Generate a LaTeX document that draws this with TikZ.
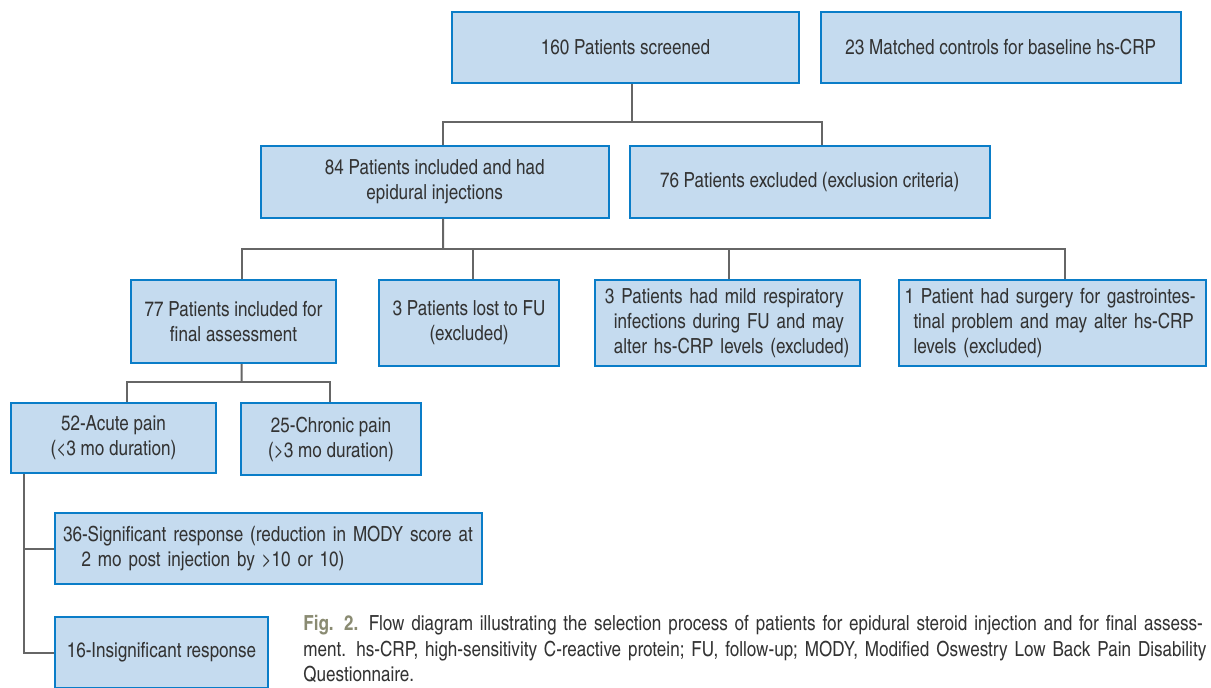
\documentclass[tikz,border=0pt]{standalone}
\usepackage{fontspec}
\setmainfont{texgyreheroscn}[Extension=.otf,UprightFont=*-regular,BoldFont=*-bold,ItalicFont=*-italic,BoldItalicFont=*-bolditalic]
\definecolor{boxline}{HTML}{0A7DC8}
\definecolor{boxfill}{HTML}{C5DBEF}
\definecolor{linkgray}{HTML}{666666}
\definecolor{txtgray}{HTML}{333333}
\definecolor{figolive}{HTML}{8A8B72}

\begin{document}
\begin{tikzpicture}[x=0.5pt,y=-0.5pt,
	box/.style={draw=boxline,fill=boxfill,line width=1pt,align=center,inner sep=2pt,text=txtgray,font=\fontsize{10.4}{12.5}\selectfont},
	link/.style={draw=linkgray,line width=1pt}]
	\useasboundingbox (0,0) rectangle (1211,687);
	% top row
	\node[box,minimum width=173.5pt,minimum height=35.5pt] (scr) at (625.5,47.5) {160 Patients screened};
	\node[box,minimum width=180pt,minimum height=35.5pt] (ctl) at (1000.7,47.2) {23 Matched controls for baseline hs-CRP};
	% second row
	\node[box,minimum width=174pt,minimum height=36pt] (inc) at (434.7,181.7) {84 Patients included and had\\epidural injections};
	\node[box,minimum width=180pt,minimum height=36pt] (exc) at (809.7,181.7) {76 Patients excluded (exclusion criteria)};
	% third row
	\node[box,minimum width=102.5pt,minimum height=41.5pt] (fin) at (233.5,321.5) {77 Patients included for\\final assessment};
	\node[box,minimum width=90pt,minimum height=43pt] (lost) at (469,323) {3 Patients lost to FU\\(excluded)};
	\node[box,minimum height=43pt,text width=122.75pt,inner xsep=5pt,align=left] (resp) at (727.7,323)
		{\mbox{3 Patients had mild respiratory}\\\hspace*{4.5pt}\mbox{infections during FU and may}\\\hspace*{4.5pt}\mbox{alter hs-CRP levels (excluded)}};
	\node[box,minimum height=43pt,text width=148pt,inner xsep=2.75pt,align=left] (surg) at (1052.5,323)
		{\mbox{1 Patient had surgery for gastrointes-}\\\hspace*{4.5pt}\mbox{tinal problem and may alter hs-CRP}\\\hspace*{4.5pt}\mbox{levels (excluded)}};
	% pain groups
	\node[box,minimum width=102.5pt,minimum height=35pt] (acu) at (113.5,438) {52-Acute pain\\(<3 mo duration)};
	\node[box,minimum width=90pt,minimum height=36pt] (chr) at (331,439) {25-Chronic pain\\(>3 mo duration)};
	% response
	\node[box,minimum height=35.5pt,text width=205.3pt,inner xsep=4pt,align=left] (sig) at (268.4,548.5)
		{36-Significant response (reduction in MODY score at\\\hspace*{9.2pt}2 mo post injection by >10 or 10)};
	\node[box,minimum width=106.5pt,minimum height=35.5pt] (ins) at (161.5,652.5) {16-Insignificant response};

	% connectors
	\coordinate (b1) at (631.7,122);
	\draw[link] (scr.south -| b1) -- (b1);
	\draw[link] ([xshift=4.15pt]inc.north) |- (b1) -| ([xshift=6.15pt]exc.north);
	\coordinate (b2) at (443,248.5);
	\draw[link] ([xshift=4.15pt]inc.south) -- (b2);
	\draw[link] ([xshift=4.1pt]fin.north) |- (b2) -| ([xshift=6.25pt]surg.north);
	\draw[link] ([xshift=2pt]lost.north) |- (b2);
	\draw[link] ([xshift=0.65pt]resp.north) |- (b2);
	\coordinate (b3) at (241.7,382);
	\draw[link] ([xshift=4.1pt]fin.south) -- (b3);
	\draw[link] ([xshift=6.75pt]acu.north) |- (b3) -| ([xshift=-0.5pt]chr.north);
	\coordinate (b4) at ([xshift=7pt]acu.south west);
	\draw[link] (b4) |- (ins.west);
	\draw[link] (sig.west) -- (sig.west -| b4);

	% caption
	\node[anchor=north west,inner sep=0pt,text width=452pt,align=left,text=txtgray,font=\fontsize{10.4}{12.75}\selectfont] (cap) at (303,615)
		{\makebox[452pt][s]{\textcolor{figolive}{\bfseries Fig. 2.} Flow diagram illustrating the selection process of patients for epidural steroid injection and for final assess-}\\
		\makebox[452pt][s]{ment. hs-CRP, high-sensitivity C-reactive protein; FU, follow-up; MODY, Modified Oswestry Low Back Pain Disability}\\
		Questionnaire.};
\end{tikzpicture}
\end{document}
